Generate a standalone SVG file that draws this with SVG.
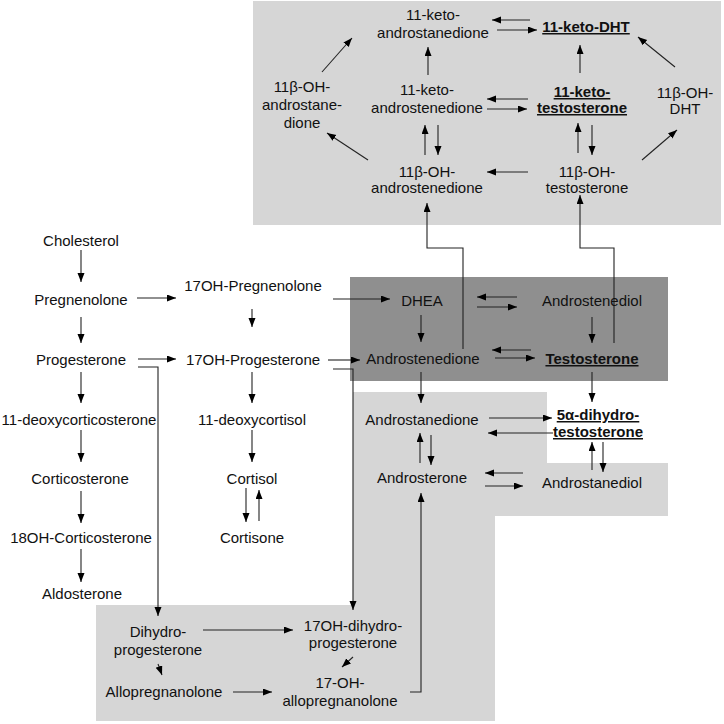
<svg xmlns="http://www.w3.org/2000/svg" width="724" height="724" viewBox="0 0 724 724">
<style>
text{font-family:"Liberation Sans",Arial,sans-serif;font-size:15px;fill:#111;text-anchor:middle}
.b{font-weight:bold;text-decoration:underline}
.c line,.c path,.c polyline{stroke:#222;stroke-width:1.1;fill:none;marker-end:url(#ah)}
</style>
<defs>
<marker id="ah" markerUnits="userSpaceOnUse" markerWidth="10" markerHeight="8" refX="9" refY="3.5" orient="auto">
<path d="M0,0 L9,3.5 L0,7 z" fill="#000"/>
</marker>
</defs>
<rect width="724" height="724" fill="#fff"/>
<g id="regions">
<rect x="253" y="1" width="468" height="224" fill="#d6d6d6"/>
<rect x="350" y="277" width="318" height="104" fill="#8f8f8f"/>
<polygon points="353,392 547,392 547,463 668,463 668,516 495,516 495,721 96,721 96,605 353,605" fill="#d6d6d6"/>
</g>
<g class="c" id="connectors">
<line x1="81" y1="250" x2="81" y2="282"/>
<line x1="81" y1="317" x2="81" y2="343"/>
<line x1="81" y1="372" x2="81" y2="403"/>
<line x1="81" y1="430" x2="81" y2="462"/>
<line x1="81" y1="491" x2="81" y2="523"/>
<line x1="81" y1="549" x2="81" y2="582"/>
<line x1="252" y1="309" x2="252" y2="327"/>
<line x1="252" y1="372" x2="252" y2="403"/>
<line x1="252" y1="430" x2="252" y2="462"/>
<line x1="246" y1="488" x2="246" y2="522"/>
<line x1="259" y1="521" x2="259" y2="490"/>
<line x1="137" y1="298" x2="176" y2="298"/>
<line x1="138" y1="359" x2="176" y2="359"/>
<polyline points="138,367 158,367 158,616"/>
<line x1="333" y1="299" x2="390" y2="299"/>
<line x1="328" y1="360" x2="360" y2="360"/>
<polyline points="333,369 353,369 353,610"/>
<line x1="517" y1="297" x2="477" y2="297"/>
<line x1="477" y1="307" x2="517" y2="307"/>
<line x1="421" y1="315" x2="421" y2="342"/>
<line x1="592" y1="317" x2="592" y2="343"/>
<line x1="531" y1="350" x2="492" y2="350"/>
<line x1="495" y1="358" x2="535" y2="358"/>
<polyline points="463,349 463,248 427,248 427,203"/>
<polyline points="614,343 614,248 580,248 580,195"/>
<line x1="421" y1="372" x2="421" y2="403"/>
<line x1="592" y1="372" x2="592" y2="402"/>
<line x1="489" y1="418" x2="552" y2="418"/>
<line x1="553" y1="433" x2="488" y2="433"/>
<line x1="420" y1="463" x2="420" y2="433"/>
<line x1="431" y1="435" x2="431" y2="465"/>
<line x1="523" y1="473" x2="485" y2="473"/>
<line x1="485" y1="486" x2="523" y2="486"/>
<line x1="592" y1="470" x2="592" y2="442"/>
<line x1="603" y1="442" x2="603" y2="472"/>
<polyline points="410,692 421,692 421,493"/>
<line x1="203" y1="630" x2="293" y2="630"/>
<line x1="353" y1="657" x2="342" y2="667"/>
<line x1="158" y1="664" x2="162" y2="675"/>
<line x1="233" y1="692" x2="272" y2="692"/>
<line x1="530" y1="20" x2="492" y2="20"/>
<line x1="497" y1="30" x2="537" y2="30"/>
<line x1="675" y1="67" x2="638" y2="37"/>
<line x1="322" y1="72" x2="352" y2="38"/>
<line x1="528" y1="99" x2="487" y2="99"/>
<line x1="487" y1="109" x2="527" y2="109"/>
<line x1="428" y1="75" x2="428" y2="47"/>
<line x1="580" y1="73" x2="580" y2="45"/>
<line x1="425" y1="155" x2="425" y2="125"/>
<line x1="438" y1="125" x2="438" y2="155"/>
<line x1="578" y1="153" x2="578" y2="123"/>
<line x1="592" y1="125" x2="592" y2="155"/>
<line x1="528" y1="172" x2="487" y2="172"/>
<line x1="368" y1="160" x2="327" y2="133"/>
<line x1="642" y1="160" x2="677" y2="130"/>
</g>
<g id="n-cholesterol"><text x="81" y="246">Cholesterol</text></g>
<g id="n-pregnenolone"><text x="81" y="305">Pregnenolone</text></g>
<g id="n-progesterone"><text x="81" y="365">Progesterone</text></g>
<g id="n-11doc"><text x="79" y="425">11-deoxycorticosterone</text></g>
<g id="n-corticosterone"><text x="80" y="484">Corticosterone</text></g>
<g id="n-18oh"><text x="81" y="543">18OH-Corticosterone</text></g>
<g id="n-aldosterone"><text x="82" y="599">Aldosterone</text></g>
<g id="n-17ohpreg"><text x="253" y="291">17OH-Pregnenolone</text></g>
<g id="n-17ohprog"><text x="253" y="365">17OH-Progesterone</text></g>
<g id="n-11doxcortisol"><text x="252" y="425">11-deoxycortisol</text></g>
<g id="n-cortisol"><text x="252" y="484">Cortisol</text></g>
<g id="n-cortisone"><text x="252" y="543">Cortisone</text></g>
<g id="n-dhea"><text x="422" y="306">DHEA</text></g>
<g id="n-androstenediol"><text x="592" y="306">Androstenediol</text></g>
<g id="n-androstenedione"><text x="423" y="364">Androstenedione</text></g>
<g id="n-testosterone"><text class="b" x="592" y="364">Testosterone</text></g>
<g id="n-androstanedione"><text x="422" y="425">Androstanedione</text></g>
<g id="n-dht"><text class="b" x="598" y="420">5α-dihydro-</text><text class="b" x="598" y="437">testosterone</text></g>
<g id="n-androsterone"><text x="422" y="483">Androsterone</text></g>
<g id="n-androstanediol"><text x="592" y="488">Androstanediol</text></g>
<g id="n-dihydroprog"><text x="158" y="637">Dihydro-</text><text x="158" y="655">progesterone</text></g>
<g id="n-17ohdhp"><text x="353" y="631">17OH-dihydro-</text><text x="353" y="648">progesterone</text></g>
<g id="n-allopreg"><text x="164" y="697">Allopregnanolone</text></g>
<g id="n-17ohallo"><text x="340" y="688">17-OH-</text><text x="340" y="706">allopregnanolone</text></g>
<g id="n-11ketoandrostanedione"><text x="433" y="20">11-keto-</text><text x="433" y="38">androstanedione</text></g>
<g id="n-11ketodht"><text class="b" x="586" y="32">11-keto-DHT</text></g>
<g id="n-11ohandrostanedione"><text x="302" y="92">11β-OH-</text><text x="302" y="110">androstane-</text><text x="302" y="128">dione</text></g>
<g id="n-11ketoandrostenedione"><text x="427" y="95">11-keto-</text><text x="427" y="113">androstenedione</text></g>
<g id="n-11ketotestosterone"><text class="b" x="582" y="97">11-keto-</text><text class="b" x="582" y="113">testosterone</text></g>
<g id="n-11ohdht"><text x="685" y="98">11β-OH-</text><text x="685" y="114">DHT</text></g>
<g id="n-11ohandrostenedione"><text x="427" y="177">11β-OH-</text><text x="427" y="193">androstenedione</text></g>
<g id="n-11ohtestosterone"><text x="587" y="177">11β-OH-</text><text x="587" y="193">testosterone</text></g>
</svg>
